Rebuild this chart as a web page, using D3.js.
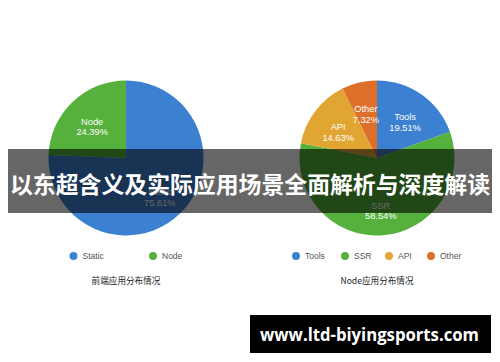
<!DOCTYPE html>
<html>
<head>
<meta charset="utf-8">
<script src="https://cdn.jsdelivr.net/npm/d3@7"></script>
<style>
  body { margin: 0; background: #fff; }
  svg { display: block; }
</style>
</head>
<body>
<div id="chart-area"></div>
<script>
// data
let frontNames = ['Static', 'Node'];
let frontValues = [75.61, 24.39];
let nodeNames = ['Tools', 'SSR', 'API', 'Other'];
let nodeValues = [19.51, 58.54, 14.63, 7.32];
let captions = ['前端应用分布情况', 'Node应用分布情况'];
let title = '以东超含义及实际应用场景全面解析与深度解读';
let watermark = 'www.ltd-biyingsports.com';

let width = 500;
let height = 362;
let radius = 77.5;
let labelFont = '"Liberation Sans", Arial, sans-serif';

let color = d3.scaleOrdinal()
  .domain(['Static', 'Tools', 'Node', 'SSR', 'API', 'Other'])
  .range(['#3c80d2', '#3c80d2', '#55b13b', '#55b13b', '#e1a531', '#de6f28']);

let svg = d3.select('#chart-area').append('svg')
  .attr('width', width)
  .attr('height', height);

let charts = [
  { names: frontNames, values: frontValues, cx: 126, legendX: [73.5, 153] },
  { names: nodeNames, values: nodeValues, cx: 377, legendX: [296, 345, 389, 431] }
];

let pie = d3.pie().sort(null).value(d => d.value);
let arc = d3.arc().innerRadius(0).outerRadius(radius);
let labelArc = d3.arc().innerRadius(radius * 0.63).outerRadius(radius * 0.63);

charts.forEach((c, ci) => {
  let data = c.names.map((n, i) => ({ name: n, value: c.values[i] }));
  let g = svg.append('g')
    .attr('transform', `translate(${c.cx}, 158)`);

  g.selectAll('path')
    .data(pie(data))
    .enter()
    .append('path')
    .attr('d', arc)
    .attr('fill', d => color(d.data.name));

  let labels = g.selectAll('.slice-label')
    .data(pie(data))
    .enter()
    .append('text')
    .attr('class', 'slice-label')
    .attr('transform', d => `translate(${labelArc.centroid(d)})`)
    .attr('text-anchor', 'middle')
    .attr('fill', '#fff')
    .style('font-family', labelFont)
    .style('font-size', '9.3px');
  labels.append('tspan')
    .attr('x', 0)
    .attr('dy', '0.2em')
    .text(d => d.data.name);
  labels.append('tspan')
    .attr('x', 0)
    .attr('dy', '1.15em')
    .text(d => d.data.value.toFixed(2) + '%');

  // legend
  let legend = svg.append('g');
  let items = legend.selectAll('g')
    .data(data)
    .enter()
    .append('g')
    .attr('transform', (d, i) => `translate(${c.legendX[i]}, 256)`);
  items.append('circle')
    .attr('r', 4)
    .attr('fill', d => color(d.name));
  items.append('text')
    .attr('x', 9)
    .attr('dy', '0.35em')
    .attr('fill', '#555')
    .style('font-family', labelFont)
    .style('font-size', '8.5px')
    .text(d => d.name);

  svg.append('text')
    .attr('x', c.cx)
    .attr('y', 281)
    .attr('dy', '0.35em')
    .attr('text-anchor', 'middle')
    .attr('fill', '#222')
    .style('font-family', '"Noto Sans CJK SC", ' + labelFont)
    .style('font-size', '8.6px')
    .text(captions[ci]);
});

// title banner
svg.append('rect')
  .attr('x', 8)
  .attr('y', 149)
  .attr('width', 484)
  .attr('height', 64)
  .attr('fill', 'rgba(0,0,0,0.6)');

svg.append('text')
  .attr('x', 250)
  .attr('y', 183)
  .attr('dominant-baseline', 'central')
  .attr('text-anchor', 'middle')
  .attr('fill', '#fff')
  .style('font-family', '"Noto Sans CJK SC", sans-serif')
  .style('font-weight', 'bold')
  .style('font-size', '23px')
  .attr('textLength', 480)
  .attr('lengthAdjust', 'spacingAndGlyphs')
  .text(title);

// watermark box
svg.append('rect')
  .attr('x', 250)
  .attr('y', 315)
  .attr('width', 241)
  .attr('height', 38)
  .attr('fill', '#000');

svg.append('text')
  .attr('x', 260)
  .attr('y', 341)
  .attr('fill', '#fff')
  .style('font-family', '"Open Sans", sans-serif')
  .style('font-weight', 'bold')
  .style('font-size', '17px')
  .attr('textLength', 219)
  .attr('lengthAdjust', 'spacingAndGlyphs')
  .text(watermark);
</script>
</body>
</html>
